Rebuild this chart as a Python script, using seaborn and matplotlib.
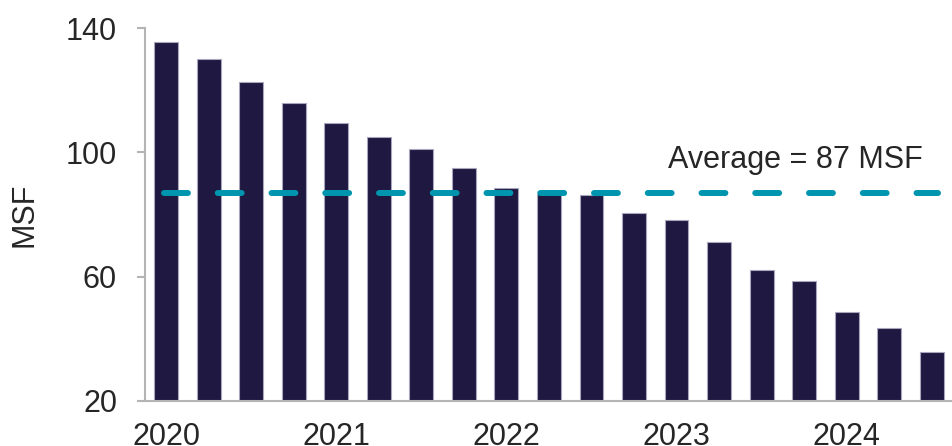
import numpy as np
import pandas as pd
import matplotlib
matplotlib.use('Agg')
import matplotlib.pyplot as plt
import seaborn as sns

sns.set_style('white')
plt.rcParams['font.family'] = ['Liberation Sans', 'DejaVu Sans']

# Dados trimestrais (MSF)
quarters = ['Q1 2020', 'Q2 2020', 'Q3 2020', 'Q4 2020',
            'Q1 2021', 'Q2 2021', 'Q3 2021', 'Q4 2021',
            'Q1 2022', 'Q2 2022', 'Q3 2022', 'Q4 2022',
            'Q1 2023', 'Q2 2023', 'Q3 2023', 'Q4 2023',
            'Q1 2024', 'Q2 2024', 'Q3 2024']
msf = [135.6, 130.2, 122.8, 115.8,
       109.4, 104.9, 101.0, 95.1,
       88.4, 86.6, 86.3, 80.4,
       78.2, 71.2, 62.2, 58.5,
       48.7, 43.3, 35.8]
year_labels = ['2020', '2021', '2022', '2023', '2024']
average = 87
avg_label = 'Average = 87 MSF'

df = pd.DataFrame({'Trimestre': quarters, 'MSF': msf})

bar_color = '#1f1841'
line_color = '#0095ae'
text_color = '#262626'
axis_color = '#b4b4b4'
fs = 22

fig = plt.figure(figsize=(9.53, 4.46), dpi=100)
ax = fig.add_axes([0.152, 0.1016, 0.848, 0.835])

sns.barplot(data=df, x='Trimestre', y='MSF', color=bar_color, width=0.56,
            edgecolor='#a8a6bc', linewidth=0.8, saturation=1, ax=ax)

# linha da média
n = len(quarters)
ax.hlines(average, -0.05, n - 1 + 0.15, colors=line_color, linewidth=4.3,
          linestyles=(0, (4, 5)), capstyle='round', zorder=3)
ax.text(14.8, 97.6, avg_label, fontsize=fs, color=text_color,
        ha='center', va='center')

ax.set_ylim(20, 140)
ax.set_xlim(-0.5, n - 0.5)
ax.set_yticks([20, 60, 100, 140])

ax.set_xticks(np.arange(0, n, 4))
ax.set_xticklabels(year_labels)
ax.set_xticks(np.arange(-0.5, n, 1), minor=True)
ax.tick_params(axis='x', which='major', length=0, pad=15, labelsize=fs,
               labelcolor=text_color)
ax.tick_params(axis='x', which='minor', length=6, width=1.5, color=axis_color,
               direction='out')
ax.tick_params(axis='y', length=6, width=1.5, color=axis_color, pad=14,
               labelsize=fs, labelcolor=text_color, left=True)

ax.set_xlabel('')
ax.set_ylabel('MSF', fontsize=fs, color=text_color, labelpad=19)

for s in ['top', 'right']:
    ax.spines[s].set_visible(False)
for s in ['left', 'bottom']:
    ax.spines[s].set_color(axis_color)
    ax.spines[s].set_linewidth(1.5)

plt.savefig('out.png', dpi=100)
